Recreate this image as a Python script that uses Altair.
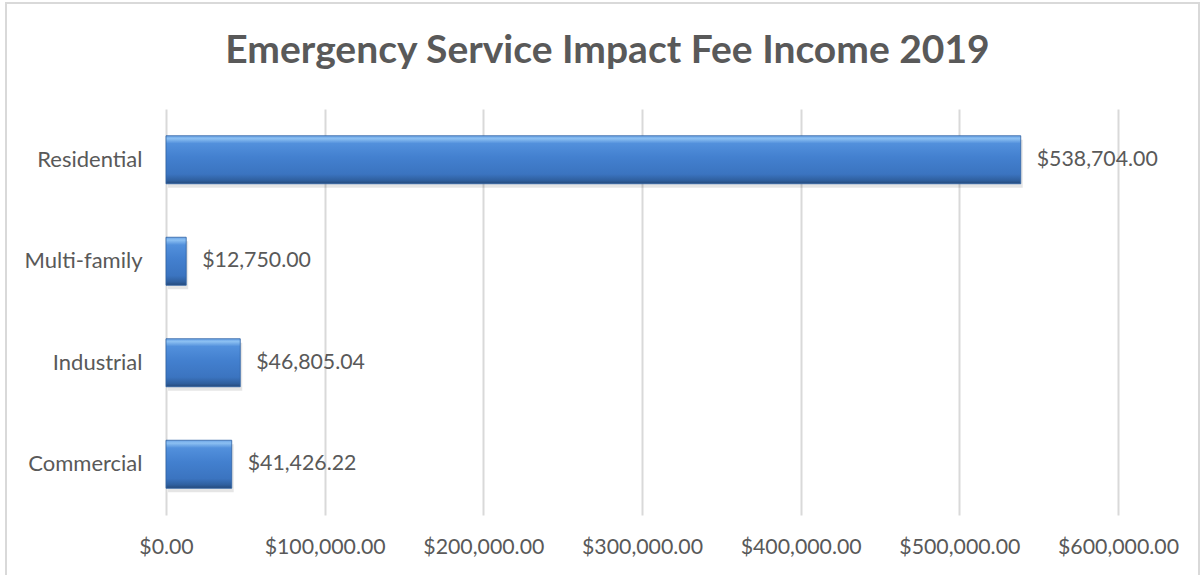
import altair as alt
import pandas as pd

categories = ["Residential", "Multi-family", "Industrial", "Commercial"]
values = [538704.00, 12750.00, 46805.04, 41426.22]
value_labels = ["$538,704.00", "$12,750.00", "$46,805.04", "$41,426.22"]
tick_values = [0, 100000, 200000, 300000, 400000, 500000, 600000]
title_text = "Emergency Service Impact Fee Income 2019"

df = pd.DataFrame({"category": categories, "value": values, "label": value_labels})

FONT = "Lato"
GREY = "#595959"
FS_CAT = 22
FS_NUM = 21.3

x_enc = alt.X(
    "value:Q",
    scale=alt.Scale(domain=[0, 600000], nice=False, zero=True),
    axis=alt.Axis(
        values=tick_values, format="$,.2f", title=None,
        labelFont=FONT, labelFontSize=FS_NUM, labelColor=GREY, labelPadding=21,
        grid=True, gridColor="#d9d9d9", gridWidth=2,
        domain=False, ticks=False, labelFlush=False,
    ),
)
y_enc = alt.Y(
    "category:N", sort=categories,
    scale=alt.Scale(paddingInner=0.527, paddingOuter=0.2635),
    axis=alt.Axis(
        title=None, labelFont=FONT, labelFontSize=FS_CAT, labelColor=GREY,
        labelPadding=24, domain=False, ticks=False, grid=False,
    ),
)

shadow = alt.Chart(df).mark_bar(color="#000000", opacity=0.10, yOffset=4, xOffset=2).encode(x=x_enc, y=y_enc)

bars = alt.Chart(df).mark_bar(
    color=alt.Gradient(
        gradient="linear", x1=0, x2=0, y1=0, y2=1,
        stops=[
            alt.GradientStop(color="#6aa3e6", offset=0),
            alt.GradientStop(color="#8cc0f2", offset=0.06),
            alt.GradientStop(color="#5290dc", offset=0.16),
            alt.GradientStop(color="#4380cf", offset=0.45),
            alt.GradientStop(color="#3b74c0", offset=0.8),
            alt.GradientStop(color="#2f5f9e", offset=0.93),
            alt.GradientStop(color="#25497a", offset=1),
        ],
    ),
    stroke="#2f62a3", strokeWidth=0.8,
).encode(x=x_enc, y=y_enc)

text = alt.Chart(df).mark_text(
    align="left", baseline="middle", dx=16, font=FONT, fontSize=FS_NUM, color=GREY
).encode(x="value:Q", y=alt.Y("category:N", sort=categories), text="label:N")

border = alt.Chart(alt.Data(values=[{}])).mark_rect(
    fill=None, stroke="#d9d9d9", strokeWidth=2
).encode(
    x=alt.value(-160), x2=alt.value(1033), y=alt.value(-106), y2=alt.value(600)
)

title = alt.Chart(alt.Data(values=[{"t": title_text}])).mark_text(
    align="center", baseline="alphabetic", font=FONT, fontSize=39,
    fontWeight="bold", color=GREY
).encode(x=alt.value(441.5), y=alt.value(-46), text="t:N")

chart = alt.layer(border, shadow, bars, text, title).properties(
    width=952, height=406,
    autosize=alt.AutoSizeParams(type="none"),
    padding={"left": 166, "top": 109, "right": 83, "bottom": 60},
).configure(background="white", view=alt.ViewConfig(stroke=None))

chart.save("out.html", embed_options={"renderer": "svg", "actions": False})
